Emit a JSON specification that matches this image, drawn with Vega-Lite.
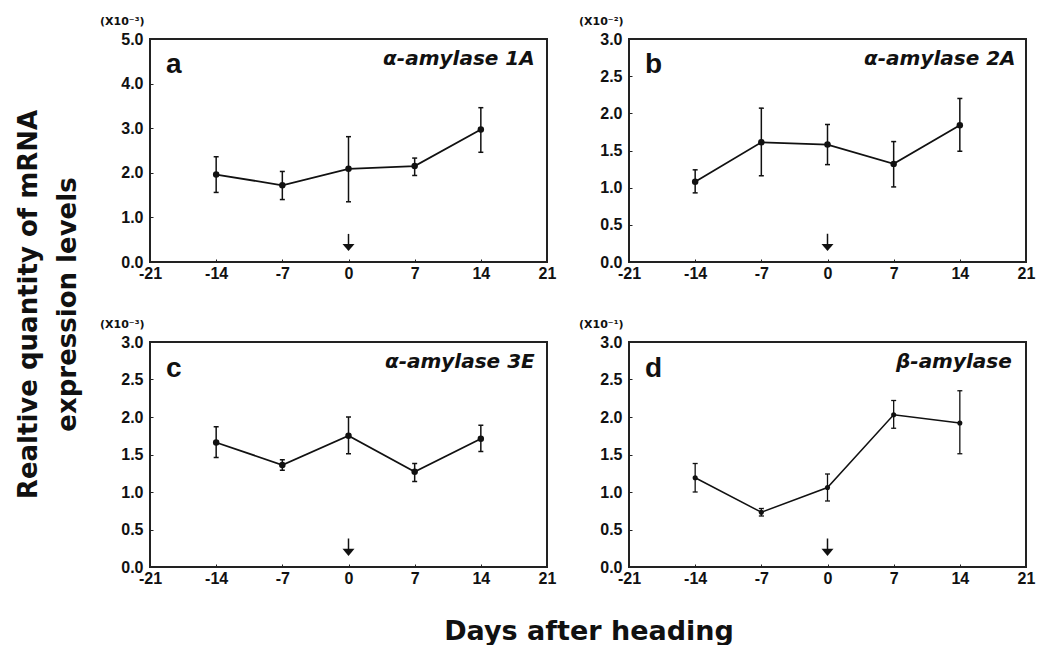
{
  "$schema": "https://vega.github.io/schema/vega-lite/v6.json",
  "padding": {"left": 15, "top": 14, "right": 2, "bottom": 0},
  "background": "white",
  "title": {
    "text": ["Realtive quantity of mRNA", "expression levels"],
    "orient": "left",
    "anchor": "middle",
    "frame": "bounds",
    "dx": 25,
    "fontSize": 26,
    "fontWeight": "bold",
    "lineHeight": 39,
    "offset": 18,
    "font": "DejaVu Sans",
    "color": "#111"
  },
  "datasets": {
    "expr": [
      {"panel": "a", "day": -14, "mean": 1.96, "lo": 1.56, "hi": 2.36},
      {"panel": "a", "day": -7, "mean": 1.72, "lo": 1.40, "hi": 2.03},
      {"panel": "a", "day": 0, "mean": 2.09, "lo": 1.35, "hi": 2.81},
      {"panel": "a", "day": 7, "mean": 2.15, "lo": 1.94, "hi": 2.33},
      {"panel": "a", "day": 14, "mean": 2.97, "lo": 2.46, "hi": 3.46},
      {"panel": "b", "day": -14, "mean": 1.08, "lo": 0.93, "hi": 1.24},
      {"panel": "b", "day": -7, "mean": 1.61, "lo": 1.16, "hi": 2.07},
      {"panel": "b", "day": 0, "mean": 1.58, "lo": 1.31, "hi": 1.85},
      {"panel": "b", "day": 7, "mean": 1.32, "lo": 1.01, "hi": 1.62},
      {"panel": "b", "day": 14, "mean": 1.84, "lo": 1.49, "hi": 2.20},
      {"panel": "c", "day": -14, "mean": 1.66, "lo": 1.46, "hi": 1.87},
      {"panel": "c", "day": -7, "mean": 1.36, "lo": 1.29, "hi": 1.43},
      {"panel": "c", "day": 0, "mean": 1.75, "lo": 1.51, "hi": 2.00},
      {"panel": "c", "day": 7, "mean": 1.27, "lo": 1.14, "hi": 1.38},
      {"panel": "c", "day": 14, "mean": 1.71, "lo": 1.54, "hi": 1.89},
      {"panel": "d", "day": -14, "mean": 1.19, "lo": 1.00, "hi": 1.38},
      {"panel": "d", "day": -7, "mean": 0.73, "lo": 0.68, "hi": 0.78},
      {"panel": "d", "day": 0, "mean": 1.06, "lo": 0.88, "hi": 1.24},
      {"panel": "d", "day": 7, "mean": 2.03, "lo": 1.85, "hi": 2.22},
      {"panel": "d", "day": 14, "mean": 1.92, "lo": 1.51, "hi": 2.35}
    ],
    "labels": [
      {"panel": "a", "letter": "a", "gene": "α-amylase 1A"},
      {"panel": "b", "letter": "b", "gene": "α-amylase 2A"},
      {"panel": "c", "letter": "c", "gene": "α-amylase 3E"},
      {"panel": "d", "letter": "d", "gene": "β-amylase"}
    ]
  },
  "columns": 2,
  "spacing": {"row": 80, "column": 82},
  "bounds": "flush",
  "concat": [
    {
      "width": 397, "height": 223,
      "layer": [
        {"data": {"name": "expr"}, "transform": [{"filter": "datum.panel === 'a'"}],
         "mark": {"type": "rule", "color": "#111", "strokeWidth": 1.5},
         "encoding": {
           "x": {"field": "day", "type": "quantitative", "scale": {"domain": [-21, 21], "nice": false, "zero": false},
                 "axis": {"values": [-21, -14, -7, 0, 7, 14, 21], "labelExpr": "'' + datum.value", "title": null}},
           "y": {"field": "lo", "type": "quantitative", "scale": {"domain": [0, 5], "nice": false},
                 "axis": {"values": [0, 1, 2, 3, 4, 5], "format": ".1f", "labelOverlap": false, "tickCount": 6, "title": "(X10⁻³)"}},
           "y2": {"field": "hi"}}},
        {"data": {"name": "expr"}, "transform": [{"filter": "datum.panel === 'a'"}],
         "mark": {"type": "tick", "orient": "horizontal", "size": 5, "thickness": 1.5, "color": "#111", "opacity": 1},
         "encoding": {"x": {"field": "day", "type": "quantitative"}, "y": {"field": "lo", "type": "quantitative"}}},
        {"data": {"name": "expr"}, "transform": [{"filter": "datum.panel === 'a'"}],
         "mark": {"type": "tick", "orient": "horizontal", "size": 5, "thickness": 1.5, "color": "#111", "opacity": 1},
         "encoding": {"x": {"field": "day", "type": "quantitative"}, "y": {"field": "hi", "type": "quantitative"}}},
        {"data": {"name": "expr"}, "transform": [{"filter": "datum.panel === 'a'"}],
         "mark": {"type": "line", "color": "#111", "strokeWidth": 1.8},
         "encoding": {"x": {"field": "day", "type": "quantitative"}, "y": {"field": "mean", "type": "quantitative"}}},
        {"data": {"name": "expr"}, "transform": [{"filter": "datum.panel === 'a'"}],
         "mark": {"type": "point", "filled": true, "color": "#111", "opacity": 1, "size": 42},
         "encoding": {"x": {"field": "day", "type": "quantitative"}, "y": {"field": "mean", "type": "quantitative"}}},
        {"data": {"name": "labels"}, "transform": [{"filter": "datum.panel === 'a'"}],
         "mark": {"type": "rule", "color": "#111", "strokeWidth": 1.5},
         "encoding": {"x": {"datum": 0}, "y": {"datum": 0.63}, "y2": {"datum": 0.36}}},
        {"data": {"name": "labels"}, "transform": [{"filter": "datum.panel === 'a'"}],
         "mark": {"type": "point", "shape": "M-1,-0.6L1,-0.6L0,0.6Z", "filled": true, "color": "#111", "opacity": 1, "size": 144},
         "encoding": {"x": {"datum": 0}, "y": {"datum": 0.325}}},
        {"data": {"name": "labels"}, "transform": [{"filter": "datum.panel === 'a'"}],
         "mark": {"type": "text", "fontSize": 28, "fontWeight": "bold", "align": "left", "baseline": "alphabetic", "color": "#111"},
         "encoding": {"x": {"datum": -19.3}, "y": {"datum": 4.24}, "text": {"field": "letter"}}},
        {"data": {"name": "labels"}, "transform": [{"filter": "datum.panel === 'a'"}],
         "mark": {"type": "text", "font": "DejaVu Sans", "fontSize": 20, "fontWeight": "bold", "fontStyle": "italic", "align": "right", "baseline": "alphabetic", "color": "#111"},
         "encoding": {"x": {"datum": 19.7}, "y": {"datum": 4.42}, "text": {"field": "gene"}}}
      ]
    },
    {
      "width": 397, "height": 223,
      "layer": [
        {"data": {"name": "expr"}, "transform": [{"filter": "datum.panel === 'b'"}],
         "mark": {"type": "rule", "color": "#111", "strokeWidth": 1.5},
         "encoding": {
           "x": {"field": "day", "type": "quantitative", "scale": {"domain": [-21, 21], "nice": false, "zero": false},
                 "axis": {"values": [-21, -14, -7, 0, 7, 14, 21], "labelExpr": "'' + datum.value", "title": null}},
           "y": {"field": "lo", "type": "quantitative", "scale": {"domain": [0, 3], "nice": false},
                 "axis": {"values": [0, 0.5, 1, 1.5, 2, 2.5, 3], "format": ".1f", "labelOverlap": false, "tickCount": 7, "title": "(X10⁻²)"}},
           "y2": {"field": "hi"}}},
        {"data": {"name": "expr"}, "transform": [{"filter": "datum.panel === 'b'"}],
         "mark": {"type": "tick", "orient": "horizontal", "size": 5, "thickness": 1.5, "color": "#111", "opacity": 1},
         "encoding": {"x": {"field": "day", "type": "quantitative"}, "y": {"field": "lo", "type": "quantitative"}}},
        {"data": {"name": "expr"}, "transform": [{"filter": "datum.panel === 'b'"}],
         "mark": {"type": "tick", "orient": "horizontal", "size": 5, "thickness": 1.5, "color": "#111", "opacity": 1},
         "encoding": {"x": {"field": "day", "type": "quantitative"}, "y": {"field": "hi", "type": "quantitative"}}},
        {"data": {"name": "expr"}, "transform": [{"filter": "datum.panel === 'b'"}],
         "mark": {"type": "line", "color": "#111", "strokeWidth": 1.8},
         "encoding": {"x": {"field": "day", "type": "quantitative"}, "y": {"field": "mean", "type": "quantitative"}}},
        {"data": {"name": "expr"}, "transform": [{"filter": "datum.panel === 'b'"}],
         "mark": {"type": "point", "filled": true, "color": "#111", "opacity": 1, "size": 42},
         "encoding": {"x": {"field": "day", "type": "quantitative"}, "y": {"field": "mean", "type": "quantitative"}}},
        {"data": {"name": "labels"}, "transform": [{"filter": "datum.panel === 'b'"}],
         "mark": {"type": "rule", "color": "#111", "strokeWidth": 1.5},
         "encoding": {"x": {"datum": 0}, "y": {"datum": 0.38}, "y2": {"datum": 0.215}}},
        {"data": {"name": "labels"}, "transform": [{"filter": "datum.panel === 'b'"}],
         "mark": {"type": "point", "shape": "M-1,-0.6L1,-0.6L0,0.6Z", "filled": true, "color": "#111", "opacity": 1, "size": 144},
         "encoding": {"x": {"datum": 0}, "y": {"datum": 0.195}}},
        {"data": {"name": "labels"}, "transform": [{"filter": "datum.panel === 'b'"}],
         "mark": {"type": "text", "fontSize": 28, "fontWeight": "bold", "align": "left", "baseline": "alphabetic", "color": "#111"},
         "encoding": {"x": {"datum": -19.3}, "y": {"datum": 2.54}, "text": {"field": "letter"}}},
        {"data": {"name": "labels"}, "transform": [{"filter": "datum.panel === 'b'"}],
         "mark": {"type": "text", "font": "DejaVu Sans", "fontSize": 20, "fontWeight": "bold", "fontStyle": "italic", "align": "right", "baseline": "alphabetic", "color": "#111"},
         "encoding": {"x": {"datum": 19.9}, "y": {"datum": 2.65}, "text": {"field": "gene"}}}
      ]
    },
    {
      "width": 397, "height": 225,
      "layer": [
        {"data": {"name": "expr"}, "transform": [{"filter": "datum.panel === 'c'"}],
         "mark": {"type": "rule", "color": "#111", "strokeWidth": 1.5},
         "encoding": {
           "x": {"field": "day", "type": "quantitative", "scale": {"domain": [-21, 21], "nice": false, "zero": false},
                 "axis": {"values": [-21, -14, -7, 0, 7, 14, 21], "labelExpr": "'' + datum.value",
                          "title": "Days after heading", "titleX": 438.5, "titleY": 72, "titleAlign": "center", "titleBaseline": "alphabetic",
                          "titleFont": "DejaVu Sans", "titleFontSize": 27, "titleFontWeight": "bold", "titleAngle": 0}},
           "y": {"field": "lo", "type": "quantitative", "scale": {"domain": [0, 3], "nice": false},
                 "axis": {"values": [0, 0.5, 1, 1.5, 2, 2.5, 3], "format": ".1f", "labelOverlap": false, "tickCount": 7, "title": "(X10⁻³)"}},
           "y2": {"field": "hi"}}},
        {"data": {"name": "expr"}, "transform": [{"filter": "datum.panel === 'c'"}],
         "mark": {"type": "tick", "orient": "horizontal", "size": 5, "thickness": 1.5, "color": "#111", "opacity": 1},
         "encoding": {"x": {"field": "day", "type": "quantitative"}, "y": {"field": "lo", "type": "quantitative"}}},
        {"data": {"name": "expr"}, "transform": [{"filter": "datum.panel === 'c'"}],
         "mark": {"type": "tick", "orient": "horizontal", "size": 5, "thickness": 1.5, "color": "#111", "opacity": 1},
         "encoding": {"x": {"field": "day", "type": "quantitative"}, "y": {"field": "hi", "type": "quantitative"}}},
        {"data": {"name": "expr"}, "transform": [{"filter": "datum.panel === 'c'"}],
         "mark": {"type": "line", "color": "#111", "strokeWidth": 1.8},
         "encoding": {"x": {"field": "day", "type": "quantitative"}, "y": {"field": "mean", "type": "quantitative"}}},
        {"data": {"name": "expr"}, "transform": [{"filter": "datum.panel === 'c'"}],
         "mark": {"type": "point", "filled": true, "color": "#111", "opacity": 1, "size": 42},
         "encoding": {"x": {"field": "day", "type": "quantitative"}, "y": {"field": "mean", "type": "quantitative"}}},
        {"data": {"name": "labels"}, "transform": [{"filter": "datum.panel === 'c'"}],
         "mark": {"type": "rule", "color": "#111", "strokeWidth": 1.5},
         "encoding": {"x": {"datum": 0}, "y": {"datum": 0.38}, "y2": {"datum": 0.215}}},
        {"data": {"name": "labels"}, "transform": [{"filter": "datum.panel === 'c'"}],
         "mark": {"type": "point", "shape": "M-1,-0.6L1,-0.6L0,0.6Z", "filled": true, "color": "#111", "opacity": 1, "size": 144},
         "encoding": {"x": {"datum": 0}, "y": {"datum": 0.195}}},
        {"data": {"name": "labels"}, "transform": [{"filter": "datum.panel === 'c'"}],
         "mark": {"type": "text", "fontSize": 28, "fontWeight": "bold", "align": "left", "baseline": "alphabetic", "color": "#111"},
         "encoding": {"x": {"datum": -19.3}, "y": {"datum": 2.54}, "text": {"field": "letter"}}},
        {"data": {"name": "labels"}, "transform": [{"filter": "datum.panel === 'c'"}],
         "mark": {"type": "text", "font": "DejaVu Sans", "fontSize": 20, "fontWeight": "bold", "fontStyle": "italic", "align": "right", "baseline": "alphabetic", "color": "#111"},
         "encoding": {"x": {"datum": 19.7}, "y": {"datum": 2.65}, "text": {"field": "gene"}}}
      ]
    },
    {
      "width": 397, "height": 225,
      "layer": [
        {"data": {"name": "expr"}, "transform": [{"filter": "datum.panel === 'd'"}],
         "mark": {"type": "rule", "color": "#111", "strokeWidth": 1.3},
         "encoding": {
           "x": {"field": "day", "type": "quantitative", "scale": {"domain": [-21, 21], "nice": false, "zero": false},
                 "axis": {"values": [-21, -14, -7, 0, 7, 14, 21], "labelExpr": "'' + datum.value", "title": null}},
           "y": {"field": "lo", "type": "quantitative", "scale": {"domain": [0, 3], "nice": false},
                 "axis": {"values": [0, 0.5, 1, 1.5, 2, 2.5, 3], "format": ".1f", "labelOverlap": false, "tickCount": 7, "title": "(X10⁻¹)"}},
           "y2": {"field": "hi"}}},
        {"data": {"name": "expr"}, "transform": [{"filter": "datum.panel === 'd'"}],
         "mark": {"type": "tick", "orient": "horizontal", "size": 5, "thickness": 1.3, "color": "#111", "opacity": 1},
         "encoding": {"x": {"field": "day", "type": "quantitative"}, "y": {"field": "lo", "type": "quantitative"}}},
        {"data": {"name": "expr"}, "transform": [{"filter": "datum.panel === 'd'"}],
         "mark": {"type": "tick", "orient": "horizontal", "size": 5, "thickness": 1.3, "color": "#111", "opacity": 1},
         "encoding": {"x": {"field": "day", "type": "quantitative"}, "y": {"field": "hi", "type": "quantitative"}}},
        {"data": {"name": "expr"}, "transform": [{"filter": "datum.panel === 'd'"}],
         "mark": {"type": "line", "color": "#111", "strokeWidth": 1.5},
         "encoding": {"x": {"field": "day", "type": "quantitative"}, "y": {"field": "mean", "type": "quantitative"}}},
        {"data": {"name": "expr"}, "transform": [{"filter": "datum.panel === 'd'"}],
         "mark": {"type": "point", "filled": true, "color": "#111", "opacity": 1, "size": 26},
         "encoding": {"x": {"field": "day", "type": "quantitative"}, "y": {"field": "mean", "type": "quantitative"}}},
        {"data": {"name": "labels"}, "transform": [{"filter": "datum.panel === 'd'"}],
         "mark": {"type": "rule", "color": "#111", "strokeWidth": 1.5},
         "encoding": {"x": {"datum": 0}, "y": {"datum": 0.38}, "y2": {"datum": 0.215}}},
        {"data": {"name": "labels"}, "transform": [{"filter": "datum.panel === 'd'"}],
         "mark": {"type": "point", "shape": "M-1,-0.6L1,-0.6L0,0.6Z", "filled": true, "color": "#111", "opacity": 1, "size": 144},
         "encoding": {"x": {"datum": 0}, "y": {"datum": 0.195}}},
        {"data": {"name": "labels"}, "transform": [{"filter": "datum.panel === 'd'"}],
         "mark": {"type": "text", "fontSize": 28, "fontWeight": "bold", "align": "left", "baseline": "alphabetic", "color": "#111"},
         "encoding": {"x": {"datum": -19.3}, "y": {"datum": 2.54}, "text": {"field": "letter"}}},
        {"data": {"name": "labels"}, "transform": [{"filter": "datum.panel === 'd'"}],
         "mark": {"type": "text", "font": "DejaVu Sans", "fontSize": 20, "fontWeight": "bold", "fontStyle": "italic", "align": "right", "baseline": "alphabetic", "color": "#111"},
         "encoding": {"x": {"datum": 19.5}, "y": {"datum": 2.65}, "text": {"field": "gene"}}}
      ]
    }
  ],
  "config": {
    "font": "Liberation Sans",
    "view": {"stroke": "#222", "strokeWidth": 2},
    "axis": {
      "grid": false,
      "domain": false,
      "ticks": true,
      "tickSize": -3,
      "tickColor": "#222",
      "tickWidth": 1,
      "labelFont": "Liberation Sans",
      "labelFontSize": 16,
      "labelFontWeight": "bold",
      "labelColor": "#111",
      "labelFlush": false,
      "labelOverlap": false,
      "titleFont": "Liberation Sans",
      "titleColor": "#111"
    },
    "axisX": {"labelPadding": 6},
    "axisY": {
      "labelPadding": 10,
      "titleAngle": 0,
      "titleAlign": "right",
      "titleBaseline": "middle",
      "titleX": -6,
      "titleY": -18,
      "titleFont": "DejaVu Sans",
      "titleFontSize": 11,
      "titleFontWeight": "bold"
    }
  }
}
